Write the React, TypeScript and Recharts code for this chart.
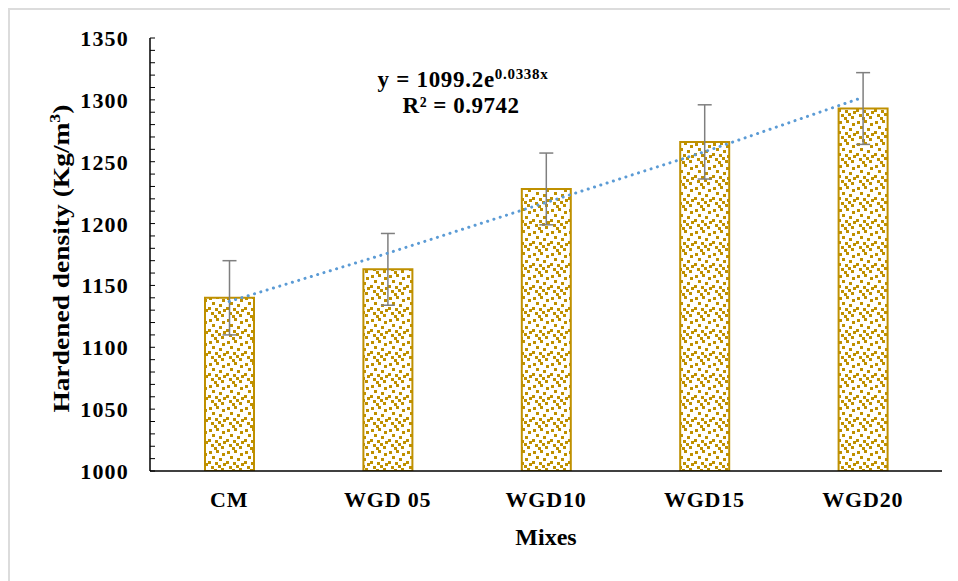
import React from 'react';
import { Bar, ComposedChart, ErrorBar, Line, XAxis, YAxis } from 'recharts';

const mixes = ['CM', 'WGD 05', 'WGD10', 'WGD15', 'WGD20'];
const density = [1140, 1163, 1228, 1266, 1293];
const densityErr = [30, 29, 29, 30, 29];
const trend = [1137, 1176, 1217, 1258, 1302];
const yMajorTicks = [1000, 1050, 1100, 1150, 1200, 1250, 1300, 1350];

const data = mixes.map((mix, i) => ({
  mix,
  density: density[i],
  err: densityErr[i],
  trend: trend[i],
}));

// minor ticks every 10 between the majors
const yTicks: number[] = [];
yMajorTicks.forEach((t, i) => {
  yTicks.push(t);
  if (i < yMajorTicks.length - 1) {
    for (let k = 1; k < 5; k++) yTicks.push(t + k * 10);
  }
});

const GOLD = '#BF9000';
const serif = { fontFamily: "'Liberation Serif', 'DejaVu Serif', serif", fontWeight: 700 };

const YTick = (props: any) => {
  const { x, y, payload } = props;
  const isMajor = yMajorTicks.includes(payload.value);
  return (
    <g>
      <line x1={x} y1={y} x2={x + 5} y2={y} stroke="#000" strokeWidth={1} />
      {isMajor && (
        <text x={x - 21} y={y + 8} textAnchor="end" style={{ ...serif, fontSize: 22, letterSpacing: 1.2 }} fill="#000">
          {payload.value}
        </text>
      )}
    </g>
  );
};

const XTick = (props: any) => {
  const { x, y, payload } = props;
  return (
    <text x={x} y={y + 36} textAnchor="middle" style={{ ...serif, fontSize: 22, letterSpacing: 0.8 }} fill="#000">
      {payload.value}
    </text>
  );
};

const confetti = [
  [1, 1], [8, 0], [14, 3], [4, 6], [11, 8], [0, 11], [7, 12], [15, 13], [3, 16], [10, 15], [13, 18], [6, 19],
];

export default function App() {
  return (
    <div style={{ borderTop: '2px solid #dcdcdc', borderLeft: '2px solid #dcdcdc', width: 948, height: 571 }}>
      <ComposedChart width={940} height={563} data={data} margin={{ top: 28, right: 8, left: 0, bottom: 62 }}>
        <defs>
          <pattern id="confetti" width={18} height={22} patternUnits="userSpaceOnUse">
            <rect width={18} height={22} fill="#fff" />
            {confetti.map(([cx, cy], i) => (
              <rect key={i} x={cx} y={cy} width={3} height={3} fill={GOLD} />
            ))}
          </pattern>
        </defs>
        <XAxis
          dataKey="mix"
          height={40}
          tickLine={false}
          tickSize={0}
          tickMargin={0}
          axisLine={{ stroke: '#000', strokeWidth: 1.5 }}
          tick={<XTick />}
          label={{
            content: (p: any) => (
              <text
                x={p.viewBox.x + p.viewBox.width / 2}
                y={535}
                textAnchor="middle"
                style={{ ...serif, fontSize: 24 }}
                fill="#000"
              >
                Mixes
              </text>
            ),
          }}
        />
        <YAxis
          width={140}
          domain={[1000, 1350]}
          ticks={yTicks}
          interval={0}
          allowDataOverflow
          tickLine={false}
          tickSize={0}
          tickMargin={0}
          axisLine={{ stroke: '#000', strokeWidth: 1.5 }}
          tick={<YTick />}
          label={{
            content: (p: any) => {
              const cy = p.viewBox.y + p.viewBox.height / 2 + 4;
              return (
                <text
                  x={59}
                  y={cy}
                  transform={`rotate(-90, 59, ${cy})`}
                  textAnchor="middle"
                  style={{ ...serif, fontSize: 23 }}
                  textLength={308}
                  lengthAdjust="spacingAndGlyphs"
                  fill="#000"
                >
                  Hardened density (Kg/m
                  <tspan style={{ fontSize: 15 }} dy={-9}>3</tspan>
                  <tspan dy={9}>)</tspan>
                </text>
              );
            },
          }}
        />
        <Bar dataKey="density" barSize={49} fill="url(#confetti)" stroke={GOLD} strokeWidth={2} isAnimationActive={false}>
          <ErrorBar dataKey="err" width={7} stroke="#7f7f7f" strokeWidth={1.5} />
        </Bar>
        <Line
          dataKey="trend"
          type="linear"
          stroke="#5B9BD5"
          strokeWidth={3}
          strokeDasharray="0.1 6.5"
          strokeLinecap="round"
          dot={false}
          activeDot={false}
          isAnimationActive={false}
        />
        <text x={453} y={77} textAnchor="middle" style={{ ...serif, fontSize: 23, letterSpacing: 0.7 }} fill="#000">
          y = 1099.2e
          <tspan style={{ fontSize: 15 }} dy={-8}>0.0338x</tspan>
        </text>
        <text x={451} y={103} textAnchor="middle" style={{ ...serif, fontSize: 23, letterSpacing: 0.5 }} fill="#000">
          R² = 0.9742
        </text>
      </ComposedChart>
    </div>
  );
}
